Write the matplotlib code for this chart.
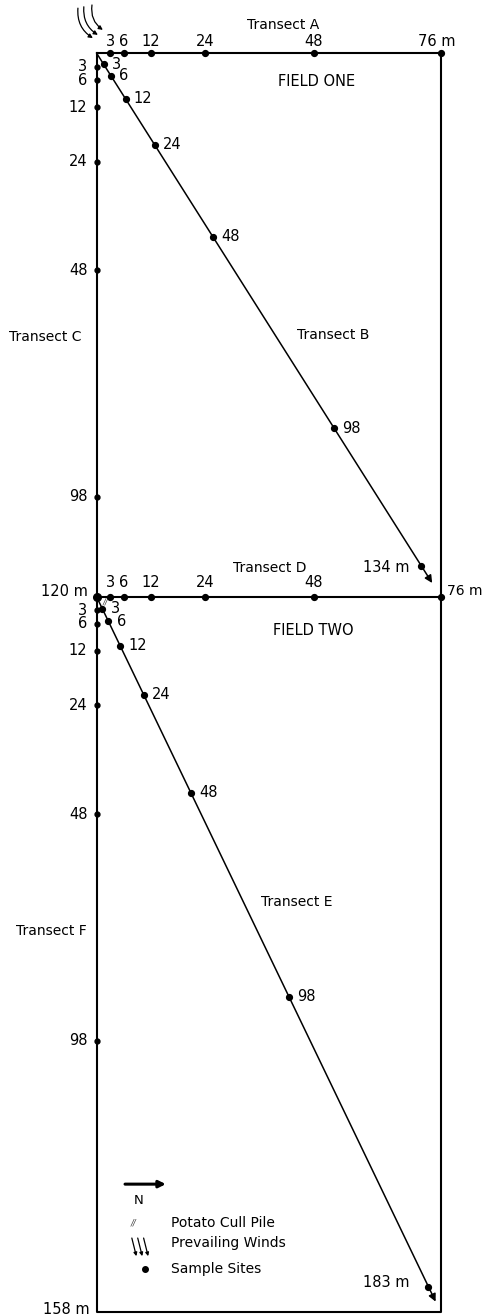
import numpy as np
import matplotlib.pyplot as plt
from matplotlib.patches import FancyArrowPatch

# field dimensions (m)
field_width = 76
field_one_len = 120
field_two_len = 158

# sample sites, metres along each transect
transect_a = [3, 6, 12, 24, 48, 76]
transect_b = [3, 6, 12, 24, 48, 98, 134]
transect_c = [3, 6, 12, 24, 48, 98]
transect_d = [3, 6, 12, 24, 48, 76]
transect_e = [3, 6, 12, 24, 48, 98, 183]
transect_f = [3, 6, 12, 24, 48, 98]
# on the map the last E site is drawn short of its true distance
transect_e_drawn = [3, 6, 12, 24, 48, 98, 169]

transect_names = ['Transect A', 'Transect B', 'Transect C',
                  'Transect D', 'Transect E', 'Transect F']
field_names = ['FIELD ONE', 'FIELD TWO']
legend_items = ['Potato Cull Pile', 'Prevailing Winds', 'Sample Sites']

total_len = field_one_len + field_two_len

# pixel layout: 4.53 px per metre, origin at the NW corner of field one
scale = 4.53
x0_px, y0_px = 96.5, 53
W, H = 485, 1316

fig = plt.figure(figsize=(W / 100, H / 100), dpi=100)
ax = fig.add_axes([0, 0, 1, 1])
ax.set_xlim(-x0_px / scale, (W - x0_px) / scale)
ax.set_ylim((H - y0_px) / scale, -y0_px / scale)
ax.axis('off')

lw = 1.5
fs = 10.5

# field outlines
ax.plot([0, field_width, field_width, 0, 0], [0, 0, total_len, total_len, 0],
        color='black', lw=lw, solid_capstyle='projecting')
ax.plot([0, field_width], [field_one_len, field_one_len], color='black', lw=lw)


def diagonal(y_top, length, frac_end):
    dx, dy = field_width, length
    d = np.hypot(dx, dy)
    ux, uy = dx / d, dy / d
    ax.annotate('', xy=(dx * frac_end, y_top + dy * frac_end), xytext=(0, y_top),
                arrowprops=dict(arrowstyle='-|>', color='black', lw=1.1,
                                mutation_scale=11, shrinkA=0, shrinkB=0))
    return ux, uy


ub = diagonal(0, field_one_len, 0.975)
ue = diagonal(field_one_len, field_two_len, 0.985)


def dots(xs, ys, size=4.2):
    ax.plot(xs, ys, 'o', color='black', markersize=size, zorder=5)


def labels(vals, xs, ys, off, ha, va='center'):
    for v, x, y in zip(vals, xs, ys):
        ax.annotate(str(v), (x, y), xytext=off, textcoords='offset points',
                    ha=ha, va=va, fontsize=fs)


# Transect A (top edge of field one)
a = np.array(transect_a, dtype=float)
dots(a, np.zeros_like(a))
labels(transect_a[:-1], a[:-1], np.zeros(len(a) - 1), (0, 8), 'center')
ax.annotate(f'{transect_a[-1]} m', (a[-1], 0), xytext=(-3, 8),
            textcoords='offset points', ha='center', va='center', fontsize=fs)

# Transect C (west edge of field one)
c = np.array(transect_c, dtype=float)
dots(np.zeros_like(c), c, 3.5)
labels(transect_c, np.zeros_like(c), c, (-6.5, 0), 'right')

# Transect B (diagonal of field one)
b = np.array(transect_b, dtype=float)
bx, by = b * ub[0], b * ub[1]
dots(bx, by)
labels(transect_b[:-1], bx[:-1], by[:-1], (6, 0), 'left')
ax.annotate(f'{transect_b[-1]} m', (bx[-1], by[-1]), xytext=(-8.5, -1.5),
            textcoords='offset points', ha='right', va='center', fontsize=fs)

# Transect D (boundary between the fields)
d = np.array(transect_d, dtype=float)
dots(d, np.full_like(d, field_one_len))
dots([0], [field_one_len], 5.5)
labels(transect_d[:-1], d[:-1], np.full(len(d) - 1, field_one_len), (0, 10), 'center')
ax.annotate(f'{transect_d[-1]} m', (field_width, field_one_len), xytext=(4.5, 4),
            textcoords='offset points', ha='left', va='center', fontsize=10)
ax.annotate(f'{field_one_len} m', (0, field_one_len), xytext=(-6, 4),
            textcoords='offset points', ha='right', va='center', fontsize=fs)

# Transect F (west edge of field two)
f = np.array(transect_f, dtype=float)
dots(np.zeros_like(f), field_one_len + f, 3.5)
labels(transect_f, np.zeros_like(f), field_one_len + f, (-6.5, 0), 'right')
ax.annotate(f'{field_two_len} m', (0, total_len), xytext=(-5, 2),
            textcoords='offset points', ha='right', va='center', fontsize=fs)

# Transect E (diagonal of field two)
e = np.array(transect_e_drawn, dtype=float)
ex, ey = e * ue[0], field_one_len + e * ue[1]
dots(ex, ey)
labels(transect_e[:-1], ex[:-1], ey[:-1], (6, 0), 'left')
ax.annotate(f'{transect_e[-1]} m', (ex[-1], ey[-1]), xytext=(-13.5, 3),
            textcoords='offset points', ha='right', va='center', fontsize=fs)

# potato cull pile at the NW corner of field two
ax.text(1.9, field_one_len + 1.1, '//', fontsize=6, color='0.25',
        ha='center', va='center', style='italic')

# transect and field names
name_pos = [(41.2, -6.2), (52.2, 62.3), (-11.4, 62.7),
            (38.3, 113.7), (44.3, 187.4), (-10.0, 193.8)]
for name, (x, y) in zip(transect_names, name_pos):
    ax.text(x, y, name, ha='center', va='center', fontsize=10)
for name, (x, y) in zip(field_names, [(48.5, 6.4), (47.8, 127.4)]):
    ax.text(x, y, name, ha='center', va='center', fontsize=10.5)

# prevailing winds at the NW corner
for (sx, sy), (tx, ty) in [((-4.1, -9.9), (-0.8, -3.3)),
                           ((-2.8, -10.2), (0.3, -4.0)),
                           ((-1.0, -10.6), (1.4, -5.1))]:
    ax.add_patch(FancyArrowPatch((sx, sy), (tx, ty), connectionstyle='arc3,rad=0.3',
                                 arrowstyle='-|>', mutation_scale=6, lw=0.9,
                                 color='black', shrinkA=0, shrinkB=0))

# legend
ax.annotate('', xy=(15.3, 249.7), xytext=(6.3, 249.7),
            arrowprops=dict(arrowstyle='-|>', color='black', lw=2.2,
                            mutation_scale=10, shrinkA=0, shrinkB=0))
ax.text(9.4, 253.3, 'N', ha='center', va='center', fontsize=9.5)
ax.text(8.1, 258.3, '//', fontsize=6, color='0.25', ha='center', va='center',
        style='italic')
for k in range(3):
    ax.annotate('', xy=(8.8 + 1.3 * k, 265.6), xytext=(7.8 + 1.3 * k, 261.6),
                arrowprops=dict(arrowstyle='-|>', color='black', lw=0.9,
                                mutation_scale=5, shrinkA=0, shrinkB=0))
dots([10.7], [268.4], 4)
for txt, y in zip(legend_items, [258.3, 262.8, 268.4]):
    ax.text(16.4, y, txt, ha='left', va='center', fontsize=10)

fig.savefig('out.png', dpi=100, facecolor='white')
